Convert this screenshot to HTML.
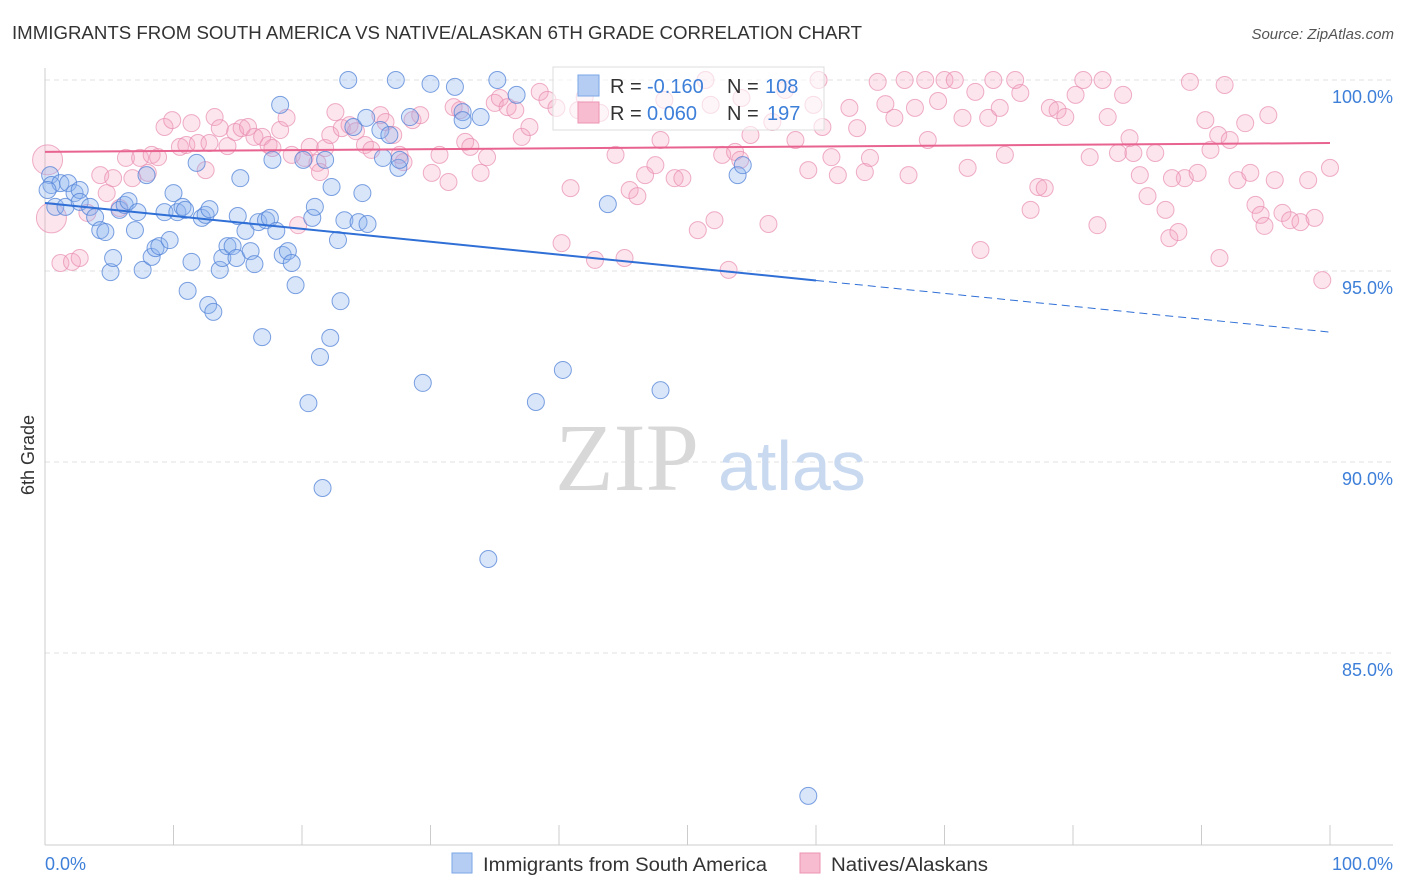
<!DOCTYPE html>
<html><head><meta charset="utf-8"><style>
body{margin:0;background:#fff;font-family:"Liberation Sans",sans-serif;}
svg{display:block}
</style></head><body>
<svg id="chart" width="1406" height="892" xmlns="http://www.w3.org/2000/svg">
<text x="12" y="39" font-size="18" fill="#333" textLength="850" lengthAdjust="spacingAndGlyphs">IMMIGRANTS FROM SOUTH AMERICA VS NATIVE/ALASKAN 6TH GRADE CORRELATION CHART</text>
<text x="1394" y="39" font-size="15" fill="#555" font-style="italic" text-anchor="end">Source: ZipAtlas.com</text>
<text transform="translate(34,455) rotate(-90)" font-size="18" fill="#333" text-anchor="middle">6th Grade</text>
<g id="grid"></g>
<g>
<text x="555" y="490" font-family="Liberation Serif,serif" font-size="96" fill="#d8d8d8">ZIP</text>
<text x="718" y="490" font-size="70" fill="#c9d9f0">atlas</text>
</g>
<g id="pts"></g>
<g id="trends"></g>
<g>
<rect x="553" y="67" width="271" height="63" fill="#fff" fill-opacity="0.6" stroke="#ddd"/>
<rect x="578" y="75" width="21" height="21" fill="#b5cdf3" stroke="#7aa6e6"/>
<text x="610" y="93" font-size="20" fill="#333">R = </text><text x="647" y="93" font-size="20" fill="#3d7fd9">-0.160</text>
<text x="727" y="93" font-size="20" fill="#333">N = </text><text x="765" y="93" font-size="20" fill="#3d7fd9">108</text>
<rect x="578" y="102" width="21" height="21" fill="#f8bcd0" stroke="#eb93b2"/>
<text x="610" y="120" font-size="20" fill="#333">R = </text><text x="647" y="120" font-size="20" fill="#3d7fd9">0.060</text>
<text x="727" y="120" font-size="20" fill="#333">N = </text><text x="767" y="120" font-size="20" fill="#3d7fd9">197</text>
</g>
<text x="45" y="870" font-size="18" fill="#3d7fd9">0.0%</text>
<text x="1393" y="870" font-size="18" fill="#3d7fd9" text-anchor="end">100.0%</text>
<rect x="452" y="853" width="20" height="20" fill="#b5cdf3" stroke="#7aa6e6"/>
<text x="483" y="871" font-size="19" fill="#333" textLength="284" lengthAdjust="spacingAndGlyphs">Immigrants from South America</text>
<rect x="800" y="853" width="20" height="20" fill="#f8bcd0" stroke="#eb93b2"/>
<text x="831" y="871" font-size="19" fill="#333" textLength="157" lengthAdjust="spacingAndGlyphs">Natives/Alaskans</text>
</svg>
<script>
const yTicks=[100,95,90,85];
const yTickLabels=["100.0%","95.0%","90.0%","85.0%"];
const xTicks=[0,10,20,30,40,50,60,70,80,90,100];
const blueX=[0.4,0.5,1.2,1.8,0.8,1.6,2.3,2.7,2.7,3.5,3.9,4.3,4.7,5.1,5.3,5.8,6.2,6.5,7.0,7.2,7.6,7.9,8.3,8.6,8.9,9.3,9.7,10.0,10.3,10.7,10.9,11.1,11.4,11.8,12.2,12.5,12.8,12.7,13.1,13.6,13.8,14.2,14.6,14.9,15.2,15.0,15.6,16.0,16.3,16.6,16.9,17.2,17.5,17.7,18.0,18.3,18.5,18.9,19.2,19.5,20.1,20.5,20.8,21.0,21.4,21.6,21.8,22.2,22.3,22.8,23.0,23.3,23.6,24.0,24.4,24.7,25.0,25.1,26.3,26.1,26.8,27.3,27.5,27.6,28.4,29.4,30.0,31.9,32.5,32.5,33.9,34.5,35.2,36.7,38.2,40.3,43.8,47.9,53.9,54.3,59.4,0.2];
const blueY=[97.51,97.25,97.30,97.30,96.68,96.68,97.04,97.12,96.81,96.68,96.41,96.07,96.02,94.97,95.34,96.60,96.73,96.83,96.07,96.54,95.03,97.51,95.37,95.60,95.65,96.54,95.81,97.04,96.54,96.68,96.60,94.48,95.24,97.83,96.39,96.47,96.62,94.11,93.93,95.03,95.34,95.65,95.65,95.34,97.43,96.44,96.05,95.52,95.18,96.28,93.27,96.33,96.39,97.91,96.05,99.35,95.42,95.52,95.21,94.63,97.91,91.54,96.39,96.68,92.75,89.32,97.91,93.25,97.20,95.81,94.21,96.33,100.0,98.77,96.28,97.04,99.01,96.23,97.96,98.69,98.56,100.0,97.70,97.91,99.03,92.07,99.90,99.82,99.16,98.95,99.03,87.46,100.0,99.61,91.57,92.41,96.75,91.88,97.51,97.77,81.26,97.12];
const pinkX=[0.2,0.5,1.2,2.1,2.7,3.3,4.3,4.8,5.3,5.8,6.3,6.8,7.4,8.0,8.3,8.8,9.3,9.9,10.5,11.0,11.4,11.9,12.5,12.8,13.2,13.6,14.2,14.8,15.3,15.8,16.3,16.9,17.4,17.7,18.3,18.8,19.2,19.7,20.2,20.6,21.2,21.4,21.8,22.2,22.6,23.1,23.7,24.2,24.9,25.4,26.1,26.5,27.1,27.6,27.9,28.6,29.2,30.1,30.7,31.4,31.8,32.3,32.7,33.1,33.9,34.4,35.0,35.4,36.0,36.6,37.1,37.7,38.5,39.1,39.8,40.2,40.9,41.5,42.0,42.8,43.2,44.4,45.1,45.5,46.1,46.7,47.5,47.9,48.2,49.0,49.6,50.8,51.4,51.8,52.1,52.7,53.2,53.7,54.1,54.2,54.9,56.3,56.6,57.6,58.4,59.4,59.8,60.2,60.5,61.2,61.7,62.6,63.2,63.8,64.2,64.8,65.4,66.1,66.9,67.2,67.7,68.5,68.7,69.5,70.0,70.8,71.4,71.8,72.4,72.8,73.4,73.8,74.3,74.7,75.5,75.9,76.7,77.3,77.8,78.2,78.8,79.4,80.2,80.8,81.3,81.9,82.3,82.7,83.5,83.9,84.4,84.7,85.2,85.8,86.4,87.2,87.5,88.2,88.7,89.1,89.7,90.3,90.7,91.3,91.8,92.2,92.8,93.4,93.8,94.2,94.6,94.9,95.2,95.7,96.3,96.9,97.7,98.3,98.8,99.4,100.0,91.4,87.7];
const pinkY=[97.91,96.39,95.21,95.24,95.34,96.52,97.51,97.04,97.43,96.65,97.96,97.43,97.96,97.57,98.04,97.98,98.77,98.95,98.25,98.30,98.87,98.35,97.64,98.35,99.03,98.74,98.27,98.64,98.74,98.77,98.51,98.51,98.30,98.22,98.69,99.01,98.04,96.20,97.96,98.25,97.83,97.59,98.22,98.56,99.16,98.74,98.82,98.66,98.30,98.17,99.08,98.90,98.56,98.04,97.85,98.95,99.08,97.57,98.04,97.33,99.29,99.21,98.38,98.25,97.57,97.98,99.40,99.53,99.29,99.21,98.51,98.77,99.69,99.48,99.27,95.73,97.17,99.21,99.55,95.29,99.14,98.04,95.34,97.12,96.96,97.51,97.77,98.43,99.48,97.43,97.43,96.07,100.0,99.35,96.33,98.04,95.03,98.12,97.91,99.53,98.56,96.23,98.90,99.74,98.43,97.64,99.35,100.0,98.77,97.98,97.51,99.27,98.74,97.59,97.96,99.95,99.37,99.01,100.0,97.51,99.27,100.0,98.43,99.45,100.0,100.0,99.01,97.70,99.69,95.55,99.01,100.0,99.27,98.04,100.0,99.66,96.60,97.20,97.17,99.27,99.21,99.03,99.61,100.0,97.98,96.20,100.0,99.03,98.09,99.61,98.48,98.09,97.51,96.96,98.09,96.60,95.86,96.02,97.43,99.95,97.57,98.95,98.17,98.56,99.87,98.43,97.38,98.87,97.57,96.73,96.47,96.18,99.08,97.38,96.52,96.33,96.28,97.38,96.39,94.76,97.70,95.34,97.43];
const blueTrend=[96.78,-0.0338];
const pinkTrend=[98.12,0.0023];

const NS="http://www.w3.org/2000/svg";
const sx=v=>45+v*12.85;
const sy=v=>80+(100-v)*38.2;
function mk(tag,attrs,parent){const e=document.createElementNS(NS,tag);for(const k in attrs)e.setAttribute(k,attrs[k]);parent.appendChild(e);return e;}
const grid=document.getElementById('grid');
yTicks.forEach((t,i)=>{
  const l=mk('line',{x1:45,x2:1393,y1:sy(t),y2:sy(t),stroke:'#e2e2e2','stroke-dasharray':'5,4'},grid);
  
  
  const tx=mk('text',{x:1393,y:sy(t)+23,'font-size':18,fill:'#3d7fd9','text-anchor':'end'},grid);
  tx.textContent=yTickLabels[i];
  
  
});
const ax=mk('line',{x1:45,x2:1393,y1:845,y2:845,stroke:'#ccc'},grid);


const ay=mk('line',{x1:45,x2:45,y1:68,y2:845,stroke:'#ccc'},grid);


xTicks.forEach(t=>{
  const l=mk('line',{x1:sx(t),x2:sx(t),y1:825,y2:845,stroke:'#ccc'},grid);
  
  
});
const pts=document.getElementById('pts');
pinkX.forEach((x,i)=>{
  const r=(i<2)?15:8.5;
  const c=mk('circle',{cx:sx(x),cy:sy(pinkY[i]),r:r,fill:'rgba(244,163,192,0.28)',stroke:'rgba(232,140,175,0.7)','stroke-width':1},pts);
  
  
});
blueX.forEach((x,i)=>{
  const c=mk('circle',{cx:sx(x),cy:sy(blueY[i]),r:8.5,fill:'rgba(140,180,240,0.33)',stroke:'rgba(80,130,215,0.75)','stroke-width':1},pts);
  
  
});
const tr=document.getElementById('trends');
const bt=x=>blueTrend[0]+blueTrend[1]*x, pt=x=>pinkTrend[0]+pinkTrend[1]*x;
let l1=mk('line',{x1:sx(0),y1:sy(bt(0)),x2:sx(60),y2:sy(bt(60)),stroke:'#2f6fd6','stroke-width':2},tr);


let l2=mk('line',{x1:sx(60),y1:sy(bt(60)),x2:sx(100),y2:sy(bt(100)),stroke:'#2f6fd6','stroke-width':1,'stroke-dasharray':'8,5'},tr);


let l3=mk('line',{x1:sx(0),y1:sy(pt(0)),x2:sx(100),y2:sy(pt(100)),stroke:'#e8638f','stroke-width':2},tr);


</script>
</body></html>
